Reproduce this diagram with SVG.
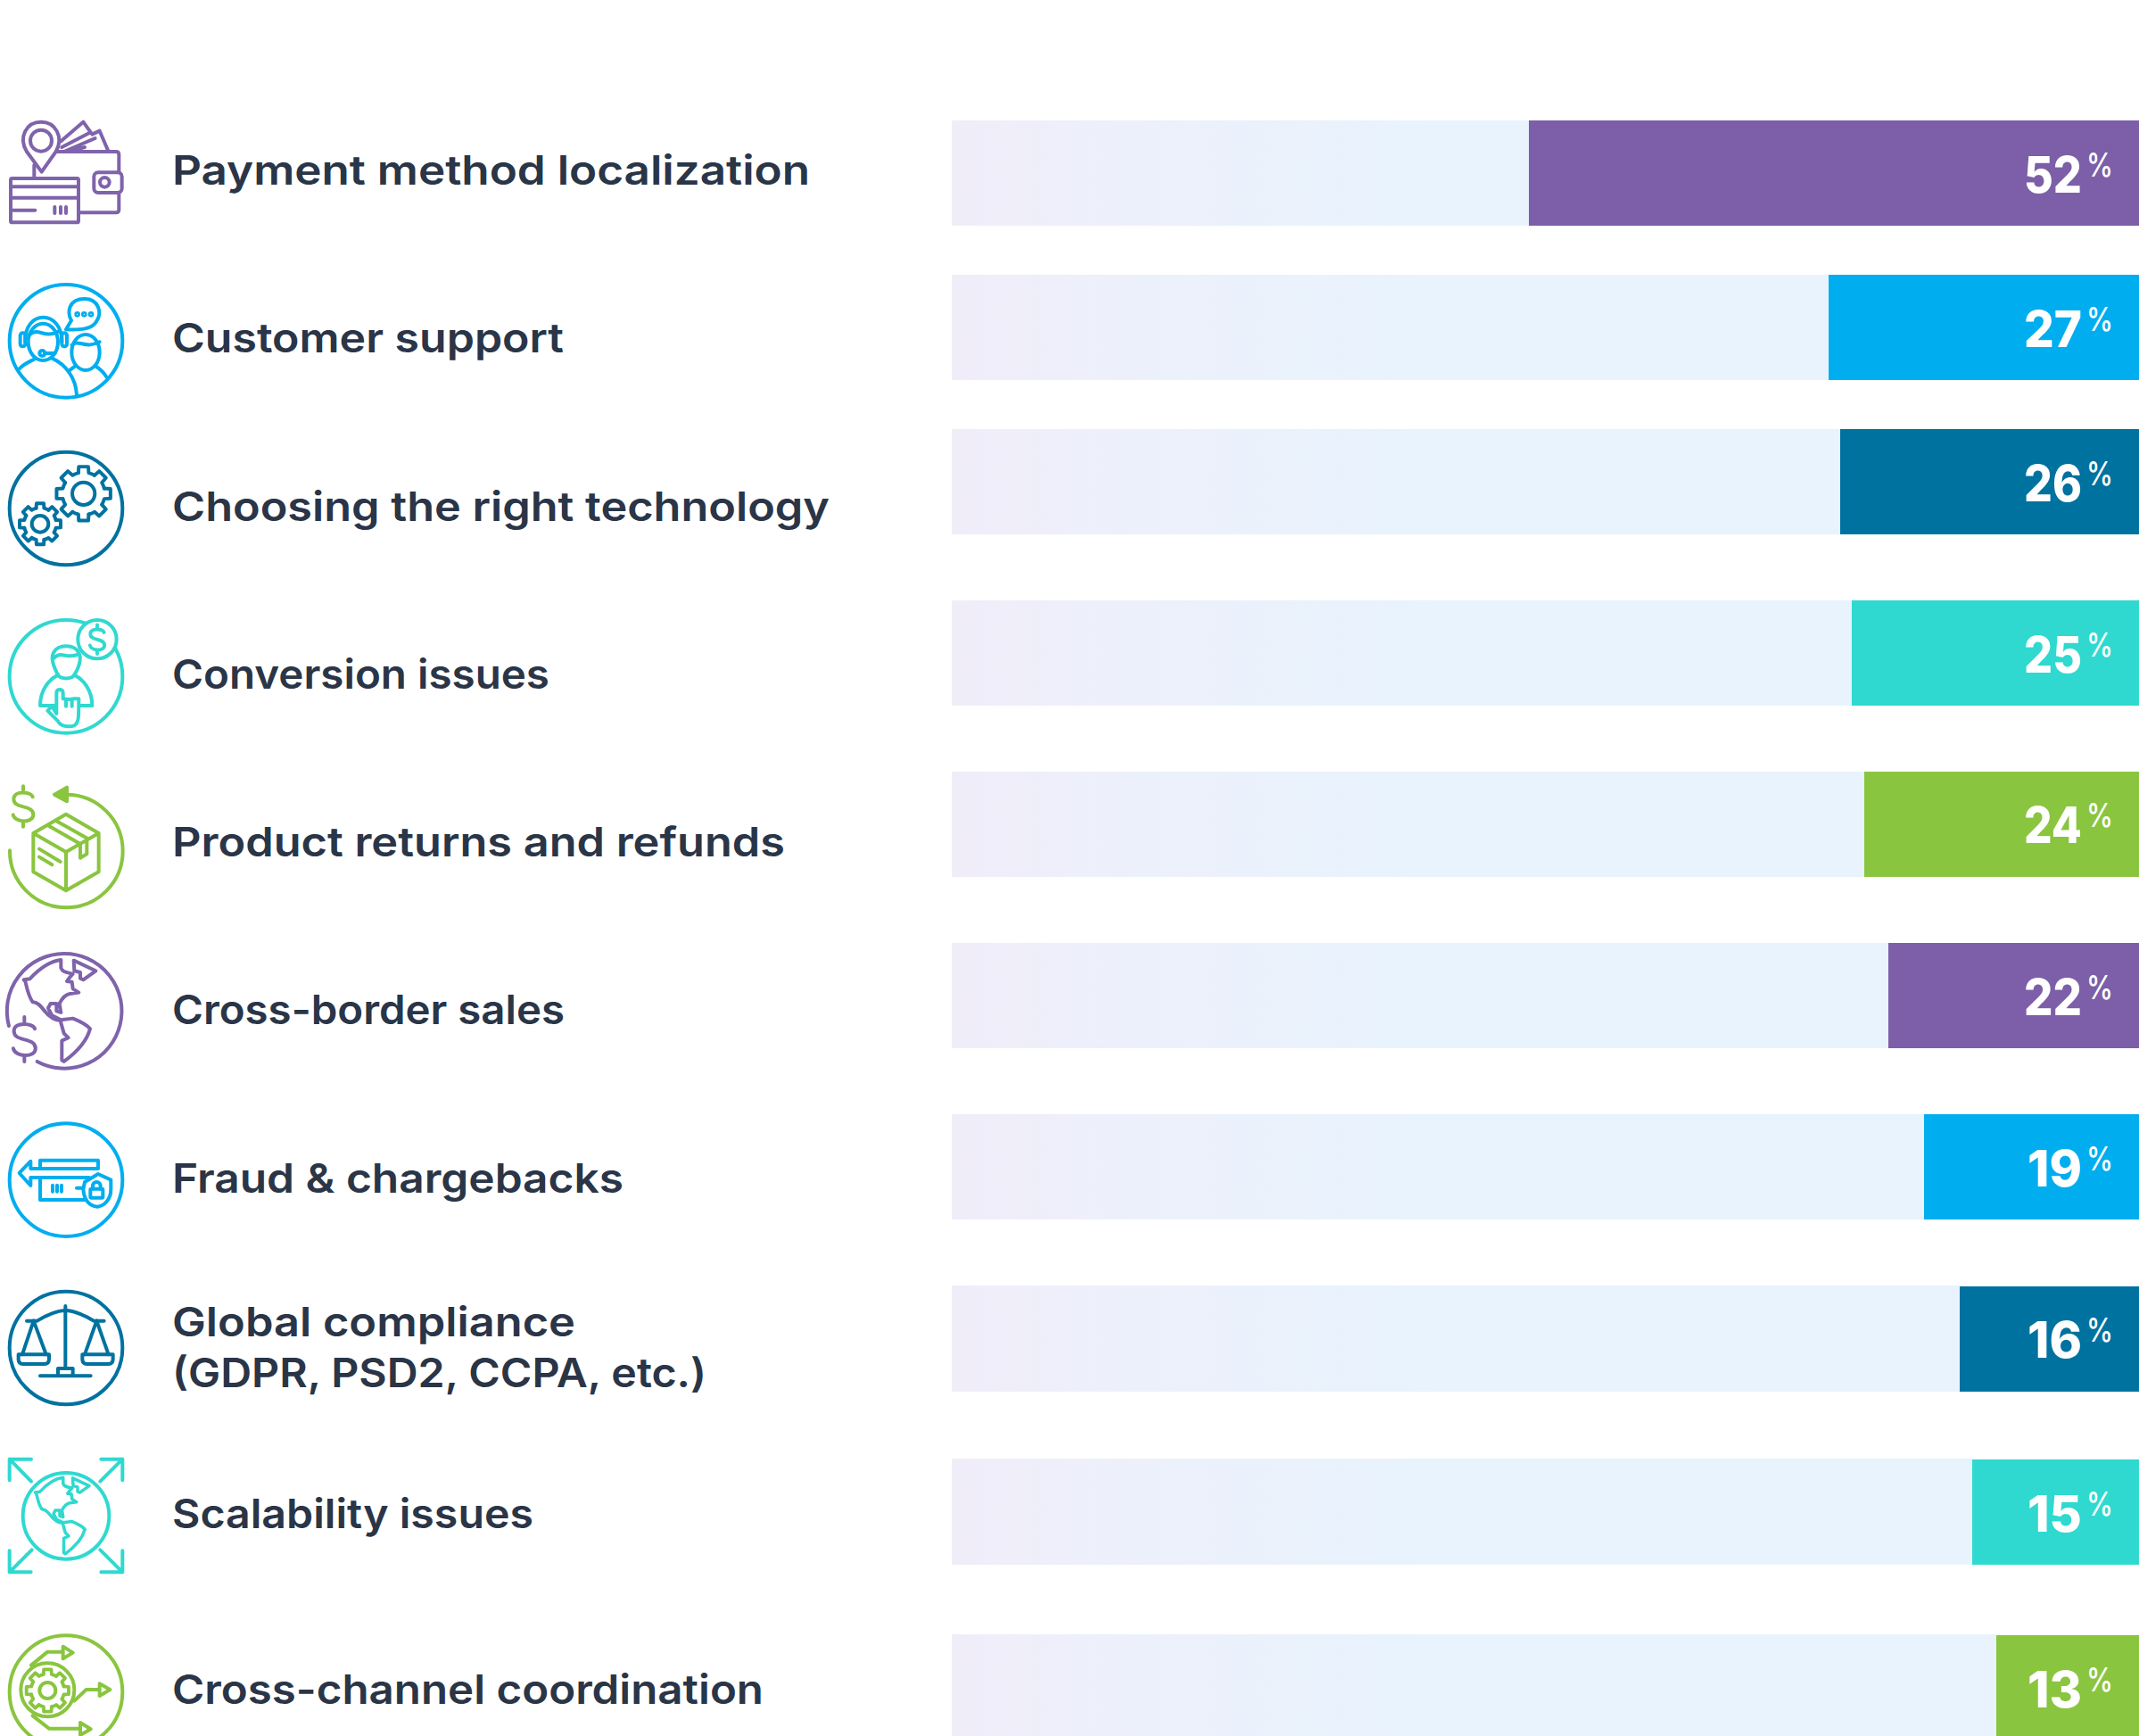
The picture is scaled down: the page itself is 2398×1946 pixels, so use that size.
<svg xmlns="http://www.w3.org/2000/svg" width="2398" height="1946" viewBox="0 0 2398 1946">
<style>
.label{font:600 45px Inter,"Liberation Sans",sans-serif;fill:#2a3547}
.val{font:800 56px Inter,"Liberation Sans",sans-serif;fill:#fff;text-anchor:end}
.pc{font:500 37px Inter,"Liberation Sans",sans-serif;fill:#fff}
.ic{fill:none;stroke-width:12;stroke-linecap:round;stroke-linejoin:round}
.p{stroke:#7f63ab}.b{stroke:#00aeef}.d{stroke:#0072a0}.t{stroke:#2fd9d0}.g{stroke:#8ac53f}
.fp{fill:#7c5fa8}.fb{fill:#00aeef}.fd{fill:#0072a0}.ft{fill:#2fd9d0}.fg{fill:#8ac53f}
.bg{fill:url(#bgGrad)}
.white{fill:#fff}
</style>
<defs>
<linearGradient id="bgGrad" gradientUnits="userSpaceOnUse" x1="1067" y1="0" x2="1600" y2="0"><stop offset="0" stop-color="#f0edf9"/><stop offset=".35" stop-color="#edf0fb"/><stop offset="1" stop-color="#e8f3fd"/></linearGradient>
<path id="tooth" d="M75.7 -18.9L98.5 -17.4V17.4L75.7 18.9A78 78 0 0 1 66.9 40.2"/>
<g id="gear"><use href="#tooth"/><use href="#tooth" transform="rotate(45)"/><use href="#tooth" transform="rotate(90)"/><use href="#tooth" transform="rotate(135)"/><use href="#tooth" transform="rotate(180)"/><use href="#tooth" transform="rotate(225)"/><use href="#tooth" transform="rotate(270)"/><use href="#tooth" transform="rotate(315)"/></g>
<path id="dollar" d="M32 -32C28 -50 -32 -55 -32 -25C-32 10 34 -8 34 28C34 58 -28 55 -34 28M0 -68V-54M0 54V68"/>
<path id="land" d="M80 715L100 712C130 680 165 652 205 648L205 675C210 690 225 690 245 695L232 710L225 720L242 722L245 745L265 758L235 762C215 765 205 785 200 795L205 825L190 820L190 795L170 795L162 810L175 835L205 850C190 855 165 840 150 820C135 800 125 790 110 790C95 770 90 740 85 720ZM205 850L245 845C270 855 295 870 303 880C295 910 270 950 215 990L208 985L208 920L230 910L215 895L205 860ZM248 650L322 685L280 715L270 710L270 690L250 685Z"/>
</defs>

<g id="bars">
<g id="bar-1"><rect class="bg" x="1067" y="135" width="647" height="118"/><rect class="fp" x="1714" y="135" width="684" height="118"/><text class="val" x="2334" y="216" textLength="65" lengthAdjust="spacingAndGlyphs">52</text><text class="pc" x="2339" y="198" textLength="30" lengthAdjust="spacingAndGlyphs">%</text></g>
<g id="bar-2"><rect class="bg" x="1067" y="308" width="983" height="118"/><rect class="fb" x="2050" y="308" width="348" height="118"/><text class="val" x="2334" y="389" textLength="65" lengthAdjust="spacingAndGlyphs">27</text><text class="pc" x="2339" y="371" textLength="30" lengthAdjust="spacingAndGlyphs">%</text></g>
<g id="bar-3"><rect class="bg" x="1067" y="481" width="996" height="118"/><rect class="fd" x="2063" y="481" width="335" height="118"/><text class="val" x="2334" y="562" textLength="65" lengthAdjust="spacingAndGlyphs">26</text><text class="pc" x="2339" y="544" textLength="30" lengthAdjust="spacingAndGlyphs">%</text></g>
<g id="bar-4"><rect class="bg" x="1067" y="673" width="1009" height="118"/><rect class="ft" x="2076" y="673" width="322" height="118"/><text class="val" x="2334" y="754" textLength="65" lengthAdjust="spacingAndGlyphs">25</text><text class="pc" x="2339" y="736" textLength="30" lengthAdjust="spacingAndGlyphs">%</text></g>
<g id="bar-5"><rect class="bg" x="1067" y="865" width="1023" height="118"/><rect class="fg" x="2090" y="865" width="308" height="118"/><text class="val" x="2334" y="945" textLength="65" lengthAdjust="spacingAndGlyphs">24</text><text class="pc" x="2339" y="927" textLength="30" lengthAdjust="spacingAndGlyphs">%</text></g>
<g id="bar-6"><rect class="bg" x="1067" y="1057" width="1050" height="118"/><rect class="fp" x="2117" y="1057" width="281" height="118"/><text class="val" x="2334" y="1138" textLength="65" lengthAdjust="spacingAndGlyphs">22</text><text class="pc" x="2339" y="1120" textLength="30" lengthAdjust="spacingAndGlyphs">%</text></g>
<g id="bar-7"><rect class="bg" x="1067" y="1249" width="1090" height="118"/><rect class="fb" x="2157" y="1249" width="241" height="118"/><text class="val" x="2334" y="1330" textLength="61" lengthAdjust="spacingAndGlyphs">19</text><text class="pc" x="2339" y="1312" textLength="30" lengthAdjust="spacingAndGlyphs">%</text></g>
<g id="bar-8"><rect class="bg" x="1067" y="1441" width="1130" height="119"/><rect class="fd" x="2197" y="1442" width="201" height="118"/><text class="val" x="2334" y="1522" textLength="61" lengthAdjust="spacingAndGlyphs">16</text><text class="pc" x="2339" y="1504" textLength="30" lengthAdjust="spacingAndGlyphs">%</text></g>
<g id="bar-9"><rect class="bg" x="1067" y="1635" width="1144" height="119"/><rect class="ft" x="2211" y="1636" width="187" height="118"/><text class="val" x="2334" y="1717" textLength="61" lengthAdjust="spacingAndGlyphs">15</text><text class="pc" x="2339" y="1699" textLength="30" lengthAdjust="spacingAndGlyphs">%</text></g>
<g id="bar-10"><rect class="bg" x="1067" y="1832" width="1171" height="114"/><rect class="fg" x="2238" y="1833" width="160" height="113"/><text class="val" x="2334" y="1914" textLength="61" lengthAdjust="spacingAndGlyphs">13</text><text class="pc" x="2339" y="1896" textLength="30" lengthAdjust="spacingAndGlyphs">%</text></g>
</g>

<g id="labels">
<text class="label" x="193" y="207" textLength="715" lengthAdjust="spacingAndGlyphs">Payment method localization</text>
<text class="label" x="193" y="395" textLength="439" lengthAdjust="spacingAndGlyphs">Customer support</text>
<text class="label" x="193" y="584" textLength="737" lengthAdjust="spacingAndGlyphs">Choosing the right technology</text>
<text class="label" x="193" y="772" textLength="423" lengthAdjust="spacingAndGlyphs">Conversion issues</text>
<text class="label" x="193" y="960" textLength="687" lengthAdjust="spacingAndGlyphs">Product returns and refunds</text>
<text class="label" x="193" y="1148" textLength="440" lengthAdjust="spacingAndGlyphs">Cross-border sales</text>
<text class="label" x="193" y="1337" textLength="506" lengthAdjust="spacingAndGlyphs">Fraud &amp; chargebacks</text>
<text class="label" x="193" y="1498" textLength="452" lengthAdjust="spacingAndGlyphs">Global compliance</text>
<text class="label" x="193" y="1555" textLength="599" lengthAdjust="spacingAndGlyphs">(GDPR, PSD2, CCPA, etc.)</text>
<text class="label" x="193" y="1713" textLength="405" lengthAdjust="spacingAndGlyphs">Scalability issues</text>
<text class="label" x="193" y="1910" textLength="663" lengthAdjust="spacingAndGlyphs">Cross-channel coordination</text>
</g>

<g id="icon-1" class="ic p" transform="translate(0,120) scale(.3333)">
<path d="M205 115L280 50L310 92L335 80L365 150M208 135L305 85M215 150L320 105M245 145L285 135"/>
<path d="M190 150H390Q400 150 400 160V220M400 288V345Q400 355 390 355H268"/>
<rect class="white" x="316" y="220" width="94" height="68" rx="14"/><circle cx="352" cy="253" r="16"/>
<path class="white" d="M140 218L90 150C60 100 90 50 138 50C186 50 216 100 188 150Z"/><circle cx="138" cy="113" r="36"/>
<path d="M115 195V238"/>
<rect class="white" x="36" y="240" width="228" height="148" rx="5"/>
<path d="M38 268H262M38 305H262M40 347H118M184 336V357M204 336V357M222 336V357"/>
</g>

<g id="icon-2" class="ic b" transform="translate(0,120) scale(.3333)">
<circle cx="222" cy="787" r="190"/>
<path d="M222 748L240 718C225 690 230 645 285 645C330 645 345 690 325 720C310 748 270 750 222 748Z"/>
<circle cx="260" cy="697" r="4"/><circle cx="283" cy="697" r="4"/><circle cx="306" cy="697" r="4"/>
<ellipse cx="145" cy="790" rx="50" ry="62"/>
<path d="M85 790C80 680 210 680 208 790M100 765C130 740 150 780 195 755M150 828H185"/>
<rect x="68" y="760" width="17" height="45" rx="8"/><rect x="208" y="760" width="17" height="45" rx="8"/>
<circle cx="142" cy="828" r="9"/>
<path d="M65 880C85 860 105 855 120 845M175 845C220 865 255 910 258 968"/>
<ellipse cx="288" cy="825" rx="47" ry="60"/>
<path d="M242 800C265 780 285 815 335 790M235 885L255 870M320 870C335 880 350 893 358 908"/>
</g>

<g id="icon-3" class="ic d" transform="translate(0,490) scale(.3333)">
<circle cx="222" cy="240" r="190"/>
<use href="#gear" transform="translate(281,190) scale(.92)" style="stroke-width:13"/><circle cx="281" cy="190" r="38"/>
<use href="#gear" transform="translate(135,292) scale(.7)" style="stroke-width:17"/><circle cx="135" cy="292" r="28"/>
</g>

<g id="icon-4" class="ic t" transform="translate(0,490) scale(.3333)">
<circle cx="222" cy="805" r="190"/>
<circle class="white" cx="327" cy="680" r="65"/>
<use href="#dollar" transform="translate(327,680) scale(.72)" style="stroke-width:16"/>
<path d="M195 800C180 770 170 745 180 725C195 695 250 695 265 725C275 745 265 775 250 800C240 815 205 815 195 800ZM180 745C205 715 225 750 265 730"/>
<path d="M195 800C165 815 135 850 135 903H310C310 850 280 815 250 800"/>
<path class="white" d="M160 920L195 955C205 975 235 975 250 970C265 960 265 945 265 880L250 880L232 882L212 880V860C212 845 190 845 190 860V930L175 905Z"/>
<path d="M222 882V905M242 882V905"/>
</g>

<g id="icon-5" class="ic g" transform="translate(0,860) scale(.3333)">
<path d="M33 280A190 190 0 1 0 222 92"/>
<path class="fg" d="M183 92L225 68V115Z"/>
<use href="#dollar" transform="translate(78,132)"/>
<path d="M222 158L332 222V352L222 415L112 352V222ZM112 222L222 285L332 222M222 285V415M160 195L270 258M188 180L295 240M270 258V305L292 292V240M132 275L203 318M132 302L175 328"/>
</g>

<g id="icon-6" class="ic p" transform="translate(0,860) scale(.3333)">
<path d="M30 870A193 193 0 1 1 125 990"/>
<use href="#land"/>
<use href="#dollar" transform="translate(82,915) scale(1.1)" style="stroke-width:11"/>
</g>

<g id="icon-7" class="ic b" transform="translate(0,1230) scale(.3333)">
<circle cx="222" cy="278" r="190"/>
<path d="M135 240V212H330V240M330 240H103V215L65 255L103 297V270H300M135 270V345H285"/>
<path d="M177 296V317M192 296V317M207 296V317M258 305H285"/>
<path class="white" d="M285 285L330 258L373 278V310C373 345 350 365 328 368C300 365 283 345 280 310Z"/>
<rect x="304" y="308" width="42" height="30" rx="3"/><path d="M312 308V298A13 13 0 0 1 338 298V308"/>
</g>

<g id="icon-8" class="ic d" transform="translate(0,1230) scale(.3333)">
<circle cx="222" cy="843" r="190"/>
<path d="M220 702V912M90 752H125C160 730 190 718 220 716C250 718 290 735 315 752H350"/>
<path d="M113 752L75 865M113 752L155 865M325 752L285 865M325 752L365 865"/>
<path d="M62 865H165V880Q165 897 150 897H77Q62 897 62 880ZM277 865H380V880Q380 897 365 897H292Q277 897 277 880Z"/>
<path d="M135 937H305M195 937V912H245V937"/>
</g>

<g id="icon-9" class="ic t" transform="translate(0,1600) scale(.3333)">
<circle cx="222" cy="298" r="145"/>
<use href="#land" transform="translate(222,298) scale(.75) translate(-218,-820)" style="stroke-width:14"/>
<path d="M105 107H32V178M32 107L105 182M340 107H412V178M412 107L337 182M32 415V487H104M32 487L107 412M412 415V487H340M412 487L337 412"/>
</g>

<g id="icon-10" class="ic g" transform="translate(0,1600) scale(.3333)">
<circle cx="222" cy="890" r="190"/>
<circle cx="160" cy="883" r="90"/>
<use href="#gear" transform="translate(160,885) scale(.72)" style="stroke-width:16"/><circle cx="160" cy="885" r="27"/>
<path d="M105 800L160 755H212M212 737L245 758L212 778ZM250 920L290 882H335M335 862L370 882L335 903ZM110 970L165 1013H270M270 993L305 1015L270 1035Z"/>
</g>
</svg>
